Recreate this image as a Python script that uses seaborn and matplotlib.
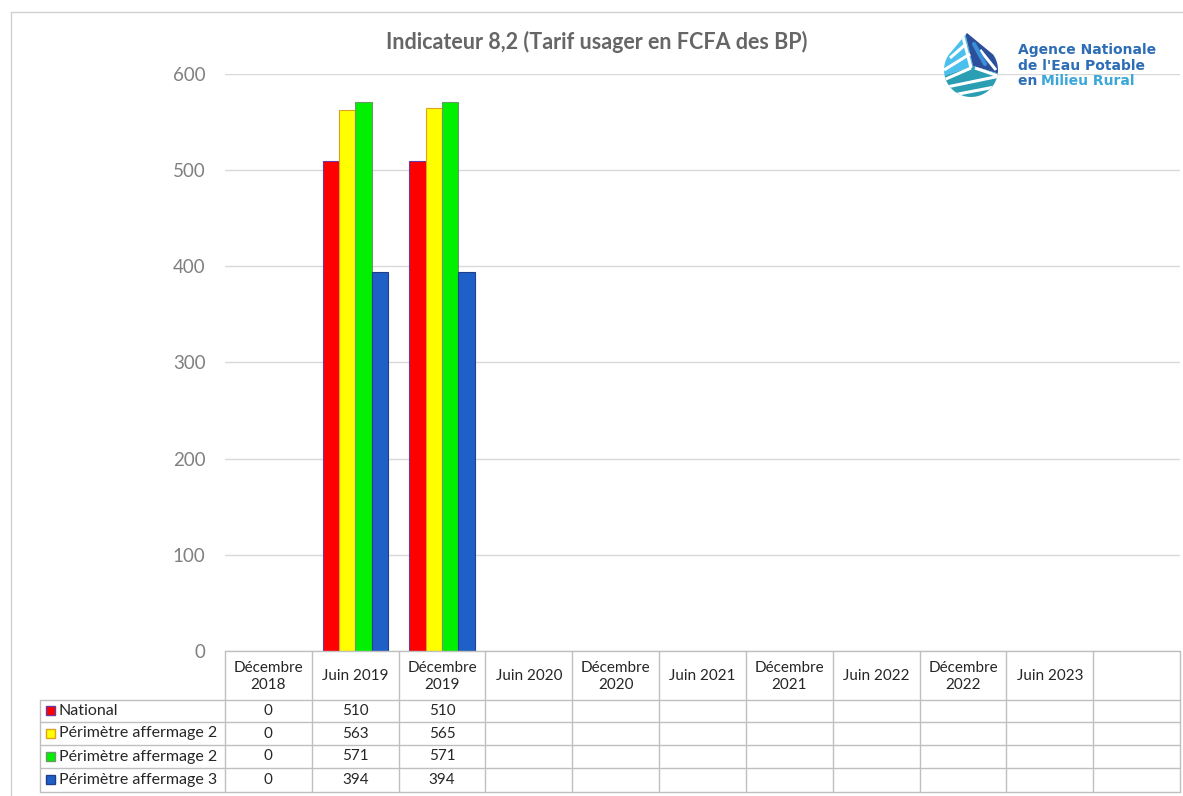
import matplotlib
matplotlib.use("Agg")
import matplotlib.pyplot as plt
from matplotlib.patches import Polygon, Rectangle
import seaborn as sns
import numpy as np
import pandas as pd

# data
periods = ["Décembre\n2018", "Juin 2019", "Décembre\n2019", "Juin 2020", "Décembre\n2020",
           "Juin 2021", "Décembre\n2021", "Juin 2022", "Décembre\n2022", "Juin 2023", ""]
series = ["National", "Périmètre affermage 2", "Périmètre affermage 2 ", "Périmètre affermage 3"]
national = [0, 510, 510, None, None, None, None, None, None, None, None]
affermage_2a = [0, 563, 565, None, None, None, None, None, None, None, None]
affermage_2b = [0, 571, 571, None, None, None, None, None, None, None, None]
affermage_3 = [0, 394, 394, None, None, None, None, None, None, None, None]
yticks = [0, 100, 200, 300, 400, 500, 600]

fills = ["#ff0000", "#ffff00", "#00f000", "#1f5fc8"]
edges = ["#6a3aa0", "#e0a020", "#6a9a6a", "#203f8a"]

rows = []
for name, vals in zip(series, [national, affermage_2a, affermage_2b, affermage_3]):
    for p, v in zip(periods, vals):
        rows.append({"period": p, "serie": name, "value": np.nan if v is None else v})
df = pd.DataFrame(rows)

sns.set_theme(style="white")
plt.rcParams["font.family"] = ["Lato", "DejaVu Sans"]

W, H = 1183, 796
fig = plt.figure(figsize=(W / 100, H / 100), dpi=100)

# plot area in pixels
px_left, px_right, px_top, px_bottom = 225, 1180, 74, 651
ax = fig.add_axes([px_left / W, 1 - px_bottom / H, (px_right - px_left) / W, (px_bottom - px_top) / H])

sns.barplot(data=df, x="period", y="value", hue="serie", order=periods, hue_order=series,
            palette=fills, saturation=1, width=0.75, gap=0, ax=ax, legend=False, errorbar=None)
for i, cont in enumerate(ax.containers):
    for bar in cont:
        bar.set_edgecolor(edges[i])
        bar.set_linewidth(0.8)
        if bar.get_height() == 0 or np.isnan(bar.get_height()):
            bar.set_visible(False)

ax.set_xlim(-0.5, len(periods) - 0.5)
ax.set_ylim(0, 600)
ax.set_yticks(yticks)
ax.set_yticklabels([str(t) for t in yticks], color="#808080", fontsize=13.5)
ax.tick_params(axis="y", length=0, pad=14)
ax.set_xticks([])
ax.set_xlabel("")
ax.set_ylabel("")
ax.grid(axis="y", color="#d9d9d9", linewidth=1)
ax.set_axisbelow(True)
for s in ax.spines.values():
    s.set_visible(False)

# overlay in pixel coordinates for the title, data table, frame and logo
ov = fig.add_axes([0, 0, 1, 1], zorder=5)
ov.set_xlim(0, W)
ov.set_ylim(H, 0)
ov.axis("off")
ov.patch.set_alpha(0)

# chart frame
ov.plot([11, W], [12, 12], color="#d0d0d0", lw=1)
ov.plot([11, 11], [12, H], color="#d0d0d0", lw=1)

ov.text(597, 42, "Indicateur 8,2 (Tarif usager en FCFA des BP)", ha="center", va="center",
        fontsize=15.5, fontweight="bold", color="#666666")

# data table
line_c = "#bfbfbf"
col_w = (px_right - px_left) / len(periods)
row_y = [651, 700, 722, 745, 768, 792]
leg_left = 40
ov.plot([px_left, px_right], [row_y[0], row_y[0]], color=line_c, lw=1)
for y in row_y[1:]:
    ov.plot([leg_left, px_right], [y, y], color=line_c, lw=1)
for i in range(len(periods) + 1):
    x = px_left + i * col_w
    ov.plot([x, x], [row_y[0], row_y[-1]], color=line_c, lw=1)
ov.plot([leg_left, leg_left], [row_y[1], row_y[-1]], color=line_c, lw=1)

for i, p in enumerate(periods):
    ov.text(px_left + (i + 0.5) * col_w, (row_y[0] + row_y[1]) / 2 + 1, p, ha="center", va="center",
            fontsize=11, color="#262626", linespacing=1.25)

for r, (name, vals) in enumerate(zip(series, [national, affermage_2a, affermage_2b, affermage_3])):
    yc = (row_y[r + 1] + row_y[r + 2]) / 2
    ov.add_patch(Rectangle((46, yc - 5), 9, 9, facecolor=fills[r], edgecolor=edges[r], lw=1))
    ov.text(59, yc, name.strip(), ha="left", va="center", fontsize=11.5, color="#262626")
    for i, v in enumerate(vals):
        if v is not None:
            ov.text(px_left + (i + 0.5) * col_w, yc, str(v), ha="center", va="center",
                    fontsize=11, color="#262626")

# logo (rough drawing of the water drop)
cx, cy, rad = 971, 70, 27
ang = np.linspace(np.deg2rad(-35), np.deg2rad(215), 60)
outline = [(967, 33)] + [(cx + rad * np.cos(a), cy + rad * np.sin(a)) for a in ang[::-1]][::-1]
outline = [(967, 33)] + [(cx + rad * np.cos(a), cy + rad * np.sin(a)) for a in ang]
drop = Polygon(outline, closed=True, facecolor="none", edgecolor="none")
ov.add_patch(drop)
ctr = (973, 66)
sectors = [
    ([ctr, (962, 20), (920, 20), (920, 84)], "#4cc0ec"),
    ([ctr, (962, 20), (1020, 20), (1020, 80)], "#2c4f9c"),
    ([ctr, (920, 84), (920, 120), (1020, 120), (1020, 80)], "#2a9fb4"),
]
for pts, c in sectors:
    p = Polygon(pts, closed=True, facecolor=c, edgecolor="none")
    ov.add_patch(p)
    p.set_clip_path(drop)
stripes = [
    [(ctr[0] - 2, ctr[1] + 2), (962, 33)],
    [(ctr[0] - 2, ctr[1] + 2), (930, 86)],
    [(ctr[0] + 2, ctr[1] + 2), (1010, 80)],
    [(950, 58), (966, 44)],
    [(944, 70), (970, 54)],
    [(942, 88), (1000, 76)],
    [(948, 96), (1000, 86)],
    [(980, 50), (996, 70)],
]
for (x0, y0), (x1, y1) in stripes:
    ln, = ov.plot([x0, x1], [y0, y1], color="white", lw=2.2, solid_capstyle="butt")
    ln.set_clip_path(drop)
inner, = ov.plot([974, 985], [44, 64], color="#3a8fd6", lw=3)
inner.set_clip_path(drop)

ov.text(1018, 50, "Agence Nationale", fontsize=10, fontweight="bold", color="#2d6db5",
        va="center", family="DejaVu Sans")
ov.text(1018, 66, "de l'Eau Potable", fontsize=10, fontweight="bold", color="#2d6db5",
        va="center", family="DejaVu Sans")
ov.text(1018, 81, "en ", fontsize=10, fontweight="bold", color="#2d6db5", va="center",
        family="DejaVu Sans")
ov.text(1041, 81, "Milieu Rural", fontsize=10, fontweight="bold", color="#3aa7d8", va="center",
        family="DejaVu Sans")

fig.savefig("out.png", dpi=100, facecolor="white")
